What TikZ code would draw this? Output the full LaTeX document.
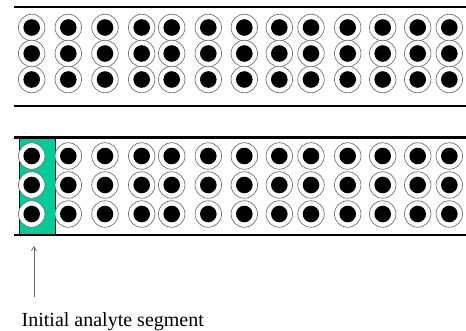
\documentclass[tikz,border=0pt]{standalone}
\usepackage{fontspec}
\setmainfont{Liberation Serif}
\usetikzlibrary{arrows.meta}
\definecolor{segGreen}{RGB}{0,204,153}
\tikzset{
  ring/.style={circle, draw=black!55, line width=0.7pt, fill=white, minimum size=26.5pt, inner sep=0pt},
  core/.style={fill=black},
  bar/.style={line width=2.4pt, line cap=butt},
  pointer/.style={draw=black!60, line width=0.7pt, -{Straight Barb[length=4pt,width=5pt]}},
}
\begin{document}
\begin{tikzpicture}[x=1pt,y=-1pt]
  \useasboundingbox (0,0) rectangle (466,330);
  % column centres shared by both plates
  \def\cols{31.7,68.3,105,141.7,171.7,208.3,244.3,279.3,311,347.7,382.7,417.7,449.3}

  % upper plate
  \draw[bar] (14,7) -- (466,7);
  \draw[bar] (14,106) -- (466,106);
  \foreach [count=\c] \x in \cols {
    \foreach [count=\r] \y in {27.5,53.5,79.5} {
      \node[ring] (a-\r-\c) at (\x,\y) {};
      \fill[core] (a-\r-\c.center) circle (8.3pt);
    }
  }

  % lower plate with the first segment highlighted
  \node[draw=black, line width=0.5pt, fill=segGreen, minimum width=36pt, minimum height=97pt, inner sep=0pt, anchor=north west] (seg) at (19,138) {};
  \draw[bar] (14,137.5) -- (466,137.5);
  \draw[bar] (14,235) -- (466,235);
  \foreach [count=\c] \x in \cols {
    \foreach [count=\r] \y in {156,185,214} {
      \node[ring] (b-\r-\c) at (\x,\y) {};
      \fill[core] (b-\r-\c.center) circle (8.3pt);
    }
  }

  % label and pointer
  \node[font=\fontsize{20}{24}\selectfont, anchor=base west, inner sep=0pt] (lbl) at (21.5,326) {Initial analyte segment};
  \coordinate (tail) at (34,297);
  \coordinate (tip) at (34,246);
  \draw[pointer] (tail) -- (tip);
\end{tikzpicture}
\end{document}
